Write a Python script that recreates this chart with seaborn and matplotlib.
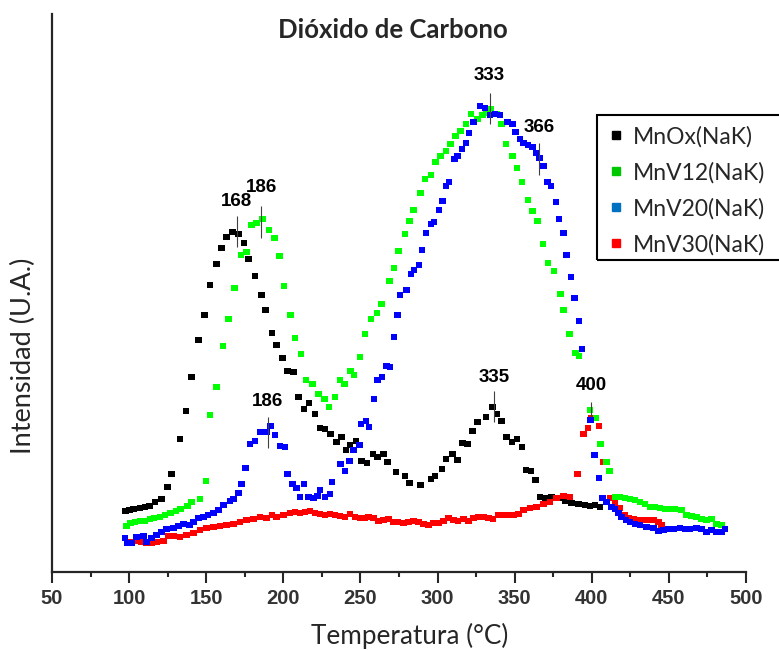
import numpy as np
import pandas as pd
import matplotlib
matplotlib.use("Agg")
import matplotlib.pyplot as plt
from matplotlib.lines import Line2D
from matplotlib.patches import Rectangle
import seaborn as sns

# ── Data (temperature °C, intensity a.u.) ─────────────────────────────────
series_names = ["MnOx(NaK)", "MnV12(NaK)", "MnV20(NaK)", "MnV30(NaK)"]

mnox_t = [97.8, 100.1, 102.7, 107.1, 110.3, 113.1, 116.8, 121.1, 125.0, 127.6,
          133.0, 136.9, 140.6, 144.9, 149.0, 152.4, 156.8, 160.0, 163.3, 166.9,
          170.8, 174.5, 177.5, 181.6, 186.0, 188.6, 192.7, 195.7, 199.6, 202.8,
          206.5, 209.7, 213.4, 216.6, 220.5, 223.8, 227.0, 230.7, 234.6, 237.8,
          240.6, 243.2, 247.1, 250.8, 254.1, 258.0, 261.2, 264.8, 267.7, 273.1,
          278.9, 281.7, 289.1, 295.6, 298.5, 302.9, 305.5, 309.6, 312.8, 316.3,
          319.5, 322.5, 326.0, 331.4, 335.5, 338.5, 341.6, 344.7, 348.3, 351.5,
          354.6, 357.4, 360.6, 363.6, 366.4, 369.7, 374.0, 378.3, 382.6, 387.0,
          391.3, 395.6, 398.9, 402.1, 405.3]
mnox_i = [61, 62, 63, 64, 65, 66, 70, 73, 85, 98,
          133, 161, 195, 232, 257, 287, 308, 324, 335, 340,
          338, 329, 313, 296, 277, 262, 239, 227, 214, 201,
          200, 175, 163, 169, 158, 144, 143, 138, 130, 135,
          122, 127, 131, 111, 109, 118, 115, 118, 110, 100,
          96, 89, 87, 93, 96, 103, 113, 118, 112, 129,
          128, 141, 150, 155, 165, 158, 151, 135, 130, 133,
          125, 102, 101, 92, 75, 74, 75, 74, 71, 69,
          68, 67, 66, 67, 65]

mnv12_t = [98.4, 101.0, 103.8, 107.1, 110.3, 113.5, 116.1, 120.0, 123.3, 127.0,
           130.4, 133.4, 137.7, 140.6, 146.0, 150.0, 152.3, 156.8, 160.9, 164.3,
           168.5, 172.7, 176.2, 179.5, 182.7, 186.6, 190.7, 194.4, 197.6, 200.4,
           204.5, 207.6, 211.5, 214.7, 218.8, 222.7, 226.6, 229.6, 233.5, 236.7,
           239.8, 243.7, 245.8, 249.7, 253.0, 256.8, 260.7, 263.8, 268.7, 271.8,
           274.8, 278.9, 281.7, 284.5, 288.8, 291.9, 295.6, 298.8, 302.0, 305.5,
           308.3, 311.8, 315.0, 318.4, 321.7, 325.8, 329.3, 331.9, 334.6, 338.3,
           341.6, 344.4, 348.5, 351.5, 354.6, 358.6, 361.7, 364.7, 368.4, 371.6,
           375.5, 379.6, 381.5, 385.7, 389.6, 391.7, 398.7, 402.7, 405.8, 409.7,
           411.6, 415.0, 418.3, 421.5, 424.8, 428.0, 431.3, 434.5, 437.7, 441.0,
           444.2, 447.5, 450.7, 454.0, 458.3, 461.5, 464.8, 468.0, 471.3, 474.5,
           477.7, 481.0, 484.2]
mnv12_i = [46, 49, 50, 51, 51, 53, 54, 55, 57, 59,
           61, 63, 66, 70, 73, 91, 157, 185, 226, 253,
           284, 317, 320, 347, 349, 353, 342, 334, 316, 286,
           257, 234, 218, 192, 188, 178, 173, 165, 175, 192,
           188, 201, 197, 215, 238, 253, 259, 268, 291, 304,
           321, 338, 351, 362, 379, 393, 397, 410, 416, 421,
           428, 436, 441, 448, 458, 453, 457, 459, 463, 458,
           448, 428, 416, 404, 390, 372, 361, 351, 328, 309,
           301, 278, 262, 238, 219, 216, 162, 154, 128, 110,
           101, 75, 75, 74, 73, 72, 70, 68, 65, 65,
           64, 63, 63, 63, 62, 57, 56, 55, 53, 52,
           53, 48, 47]

mnv20_t = [97.3, 99.1, 101.7, 104.9, 109.2, 111.4, 114.6, 117.9, 121.1, 124.4,
           128.7, 131.9, 135.1, 139.0, 141.6, 144.9, 148.1, 151.3, 154.6, 157.8,
           161.1, 165.4, 167.6, 170.8, 173.0, 175.6, 178.4, 181.6, 184.9, 189.2,
           191.8, 194.6, 197.8, 201.1, 202.6, 205.8, 208.7, 210.8, 213.4, 216.2,
           219.4, 222.0, 223.8, 227.0, 230.3, 231.7, 237.2, 240.0, 242.8, 245.4,
           249.3, 250.4, 253.6, 255.7, 258.8, 261.2, 264.0, 267.0, 269.2, 271.8,
           273.9, 275.6, 280.0, 282.8, 284.7, 288.0, 289.9, 292.5, 295.6, 297.7,
           300.9, 303.1, 305.5, 307.4, 310.9, 312.8, 316.0, 318.4, 320.4, 323.4,
           327.5, 330.8, 334.0, 337.2, 340.5, 345.5, 348.7, 350.4, 353.5, 355.6,
           358.8, 361.7, 363.8, 366.0, 368.6, 371.4, 373.6, 376.8, 378.7, 381.5,
           383.7, 386.5, 388.7, 391.7, 393.7, 399.3, 401.6, 404.7, 406.8, 409.7,
           412.9, 415.0, 417.2, 419.4, 422.2, 424.8, 428.0, 431.3, 435.6, 439.9,
           443.1, 446.4, 449.6, 452.9, 457.2, 460.4, 463.7, 468.0, 471.3, 474.5,
           477.7, 481.0, 484.2, 486.4]
mnv20_i = [34, 29, 29, 35, 36, 30, 34, 37, 40, 43,
           44, 46, 48, 47, 50, 54, 55, 57, 59, 62,
           67, 71, 73, 79, 88, 104, 128, 131, 140, 140,
           146, 137, 126, 125, 98, 88, 84, 75, 88, 75,
           74, 76, 82, 75, 78, 90, 108, 101, 111, 122,
           127, 148, 151, 145, 173, 192, 195, 206, 205, 235,
           257, 277, 282, 298, 302, 307, 322, 339, 348, 350,
           362, 371, 386, 390, 413, 416, 423, 429, 439, 450,
           466, 464, 457, 458, 457, 450, 448, 440, 433, 429,
           427, 425, 419, 414, 406, 390, 386, 370, 353, 339,
           317, 295, 274, 251, 223, 152, 117, 94, 74, 70,
           65, 63, 59, 55, 52, 50, 48, 47, 45, 44,
           41, 42, 43, 43, 44, 43, 43, 44, 43, 40,
           42, 40, 40, 43]

mnv30_t = [101.7, 104.5, 108.0, 111.4, 114.6, 117.9, 122.2, 125.4, 128.7, 133.0,
           137.3, 141.6, 146.0, 150.3, 154.6, 158.9, 163.3, 167.6, 171.9, 176.2,
           180.5, 184.9, 189.2, 192.5, 195.7, 200.0, 204.3, 207.6, 210.8, 214.0,
           217.3, 220.5, 223.8, 227.0, 230.3, 233.5, 236.7, 240.0, 243.2, 246.5,
           249.7, 253.0, 255.1, 258.3, 261.6, 264.8, 268.1, 271.3, 274.5, 277.8,
           281.0, 284.3, 287.5, 290.8, 294.0, 297.2, 300.5, 303.7, 307.0, 310.2,
           313.4, 316.7, 319.9, 323.2, 326.4, 329.7, 332.9, 336.1, 339.4, 342.6,
           345.9, 349.1, 352.4, 355.6, 359.9, 364.3, 368.6, 372.9, 377.2, 381.5,
           385.9, 390.6, 394.5, 397.7, 399.9, 404.7, 407.5, 411.8, 415.0, 418.3,
           421.5, 423.7, 426.9, 431.3, 435.6, 439.9, 443.1, 445.3]
mnv30_i = [30, 31, 30, 29, 29, 30, 31, 36, 36, 35,
           37, 39, 42, 44, 45, 46, 47, 48, 50, 52,
           53, 55, 54, 57, 55, 57, 59, 60, 59, 60,
           61, 59, 58, 57, 58, 57, 56, 55, 58, 55,
           54, 54, 55, 54, 51, 52, 53, 50, 50, 49,
           50, 51, 50, 48, 47, 49, 49, 51, 54, 52,
           51, 53, 51, 54, 55, 55, 54, 53, 57, 57,
           57, 57, 58, 62, 64, 65, 68, 70, 74, 76,
           75, 98, 138, 144, 154, 146, 110, 74, 69, 64,
           57, 54, 53, 52, 52, 52, 50, 47]

# peak marks: label, temperature, text height, tick line bottom/top
peak_labels = ["168", "186", "186", "333", "366", "335", "400"]
peak_temps = [169.8, 185.7, 189.9, 333.8, 366.0, 336.4, 399.5]
peak_text_i = [370, 384, 170, 496, 445, 194, 187]
peak_line_lo = [325, 334, 124, 448, 397, 150, 155]
peak_line_hi = [356, 366, 155, 479, 429, 181, 170]

x_ticks = list(range(50, 501, 50))

data_colors = {"MnOx(NaK)": "#000000", "MnV12(NaK)": "#00FF00",
               "MnV20(NaK)": "#0000FF", "MnV30(NaK)": "#FF0000"}
legend_colors = ["#000000", "#00C800", "#0070C0", "#FF0000"]

# ── Long table, row order = drawing order ───────────────────────────────
frames = []
for name, t, i in [("MnOx(NaK)", mnox_t, mnox_i),
                   ("MnV30(NaK)", mnv30_t, mnv30_i),
                   ("MnV12(NaK)", mnv12_t, mnv12_i),
                   ("MnV20(NaK)", mnv20_t, mnv20_i)]:
    frames.append(pd.DataFrame({"temp": t, "intensidad": i, "muestra": name}))
df = pd.concat(frames, ignore_index=True)

sns.set_style("ticks")
plt.rcParams["font.family"] = ["Lato", "DejaVu Sans"]

fig = plt.figure(figsize=(7.79, 6.5), dpi=100)
ax = fig.add_axes([52 / 779, 78 / 650, 694 / 779, 558 / 650])

sns.scatterplot(data=df, x="temp", y="intensidad", hue="muestra",
                palette=data_colors, marker="s", s=22, linewidth=0,
                legend=False, ax=ax)

# peak annotations
ax.vlines(peak_temps, peak_line_lo, peak_line_hi, colors="#404040", lw=0.8)
for lab, t, yi in zip(peak_labels, peak_temps, peak_text_i):
    ax.text(t, yi, lab, ha="center", va="center", fontsize=13.5,
            fontweight="bold", family="Liberation Sans", color="black")

# ── Axes styling ─────────────────────────────────────────────────────────
ax.set_xlim(50, 500)
ax.set_ylim(0, 558)
ax.set_xticks(x_ticks)
ax.set_xticklabels([str(v) for v in x_ticks], fontfamily="Liberation Sans",
                   fontweight="bold", fontsize=14.5, color="#333333")
ax.set_xticks(range(75, 500, 50), minor=True)
ax.set_yticks([])
sns.despine(ax=ax)
for sp in ["left", "bottom"]:
    ax.spines[sp].set_linewidth(1.6)
ax.tick_params(axis="x", which="major", length=8, width=1.5, pad=4.5)
ax.tick_params(axis="x", which="minor", length=3.8, width=1.5)

ax.set_xlabel("Temperatura (°C)", fontsize=18.8, va="center")
ax.xaxis.set_label_coords(0.516, -0.1147)
ax.set_ylabel("Intensidad (U.A.)", fontsize=19.5, va="center")
ax.yaxis.set_label_coords(-0.0418, 0.388)

ax.text(0.4914, 0.9713, "Dióxido de Carbono", transform=ax.transAxes,
        ha="center", va="center", fontsize=18.5, fontweight="bold")

# ── Legend (box runs off the right edge, as in the original) ────────────
handles = [Line2D([], [], ls="", marker="s", ms=5.5, mfc=c, mec=c)
           for c in legend_colors]
ax.legend(handles, series_names, loc="upper left",
          bbox_to_anchor=(609 / 779, 1 - 126 / 650),
          bbox_transform=fig.transFigure, frameon=False, fontsize=16.5,
          handlelength=0.6, handletextpad=0.44, labelspacing=0.63,
          borderpad=0, borderaxespad=0)
fig.add_artist(Rectangle((597 / 779, 1 - 260 / 650), 0.5, 145 / 650,
                         transform=fig.transFigure, fill=False,
                         ec="black", lw=1.5))

fig.savefig("out.png", dpi=100)
plt.close(fig)
